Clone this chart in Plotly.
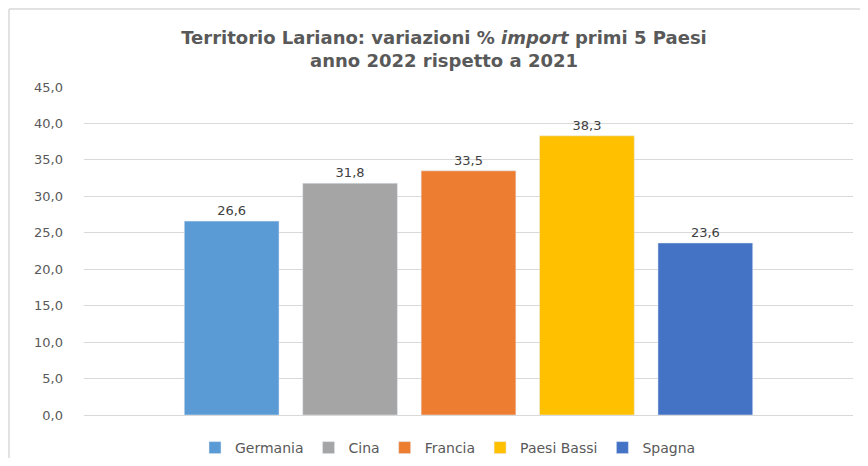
import plotly.graph_objects as go

countries = ["Germania", "Cina", "Francia", "Paesi Bassi", "Spagna"]
values = [26.6, 31.8, 33.5, 38.3, 23.6]
colors = ["#5B9BD5", "#A5A5A5", "#ED7D31", "#FFC000", "#4472C4"]
tick_vals = [0, 5, 10, 15, 20, 25, 30, 35, 40, 45]

# page body has an 8px margin, so figure coords = screen coords - 8
OFF = 8
W, H = 868 - 2 * OFF, 466 - 2 * OFF
ml, mt = 84 - OFF, 87 - OFF
mr = W - (853 - OFF)
mb = H - (415 - OFF)
FONT = "DejaVu Sans"

fig = go.Figure()
for name, v, c in zip(countries, values, colors):
    fig.add_trace(go.Bar(
        x=["2022"], y=[v], name=name, marker_color=c,
        texttemplate="%{y:.1f}", textposition="outside",
        textfont=dict(size=13, color="#404040", family=FONT),
        cliponaxis=False,
    ))

pw = W - ml - mr
ph = H - mt - mb
def px_x(x):
    return (x - OFF - ml) / pw
def px_y(y):
    return (H - mb - (y - OFF)) / ph

border = dict(color="#D9D9D9", width=1.5)
fig.update_layout(
    width=W, height=H,
    margin=dict(l=ml, r=mr, t=mt, b=mb, autoexpand=False),
    paper_bgcolor="white", plot_bgcolor="white",
    separators=",.",
    barmode="group", bargap=0.23, bargroupgap=0.2,
    title=dict(
        text="Territorio Lariano: variazioni % <i>import</i> primi 5 Paesi<br>anno 2022 rispetto a 2021",
        x=(444 - OFF) / W, xanchor="center", y=1 - (44 - OFF) / H, yanchor="top",
        font=dict(family=FONT, size=18, color="#595959", weight="bold"),
    ),
    xaxis=dict(showticklabels=False, showgrid=False, zeroline=False, showline=False),
    yaxis=dict(
        range=[0, 45], tickvals=tick_vals, tickformat=".1f",
        showgrid=True, gridcolor="#D9D9D9", gridwidth=1,
        zeroline=True, zerolinecolor="#D9D9D9", zerolinewidth=1,
        tickfont=dict(family=FONT, size=13, color="#595959"),
        ticks="", ticklabelstandoff=20,
    ),
    legend=dict(
        orientation="h", x=(448 - OFF - ml) / pw, xanchor="center",
        yref="container", y=1 - (448 - OFF) / H, yanchor="middle",
        font=dict(family=FONT, size=14, color="#595959"),
        itemwidth=30, traceorder="normal",
    ),
    shapes=[
        dict(type="line", xref="paper", yref="paper",
             x0=px_x(9), x1=px_x(868), y0=px_y(9), y1=px_y(9), line=border, layer="below"),
        dict(type="line", xref="paper", yref="paper",
             x0=px_x(9), x1=px_x(9), y0=px_y(9), y1=px_y(466), line=border, layer="below"),
    ],
)

fig.write_html("out.html")
